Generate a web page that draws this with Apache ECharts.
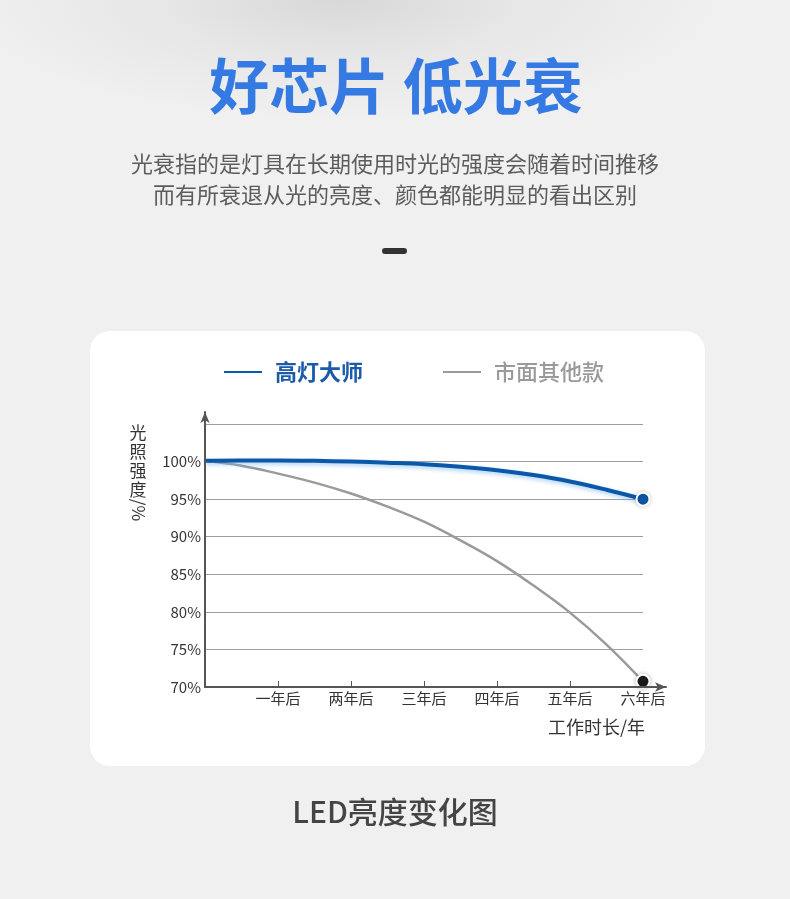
<!DOCTYPE html>
<html>
<head>
<meta charset="utf-8">
<script src="https://cdn.jsdelivr.net/npm/echarts@6/dist/echarts.min.js"></script>
<style>
  html, body { margin: 0; padding: 0; }
  body {
    width: 790px; height: 899px; overflow: hidden;
    background: radial-gradient(ellipse 380px 120px at 340px 0px, #d8d8d8 0%, #e6e6e6 45%, #f0f0f0 100%), #f0f0f0;
  }
  #chart { width: 790px; height: 899px; }
</style>
</head>
<body>
<div id="chart"></div>
<script>
// ---- data (every half year) ----
const years = [0, 0.5, 1, 1.5, 2, 2.5, 3, 3.5, 4, 4.5, 5, 5.5, 6];
const xLabels = ['一年后', '两年后', '三年后', '四年后', '五年后', '六年后'];
const gaodengValues = [100.1, 100.15, 100.15, 100.1, 100.0, 99.85, 99.65, 99.3, 98.85, 98.2, 97.35, 96.25, 95.0];
const otherValues = [100.1, 99.45, 98.4, 97.2, 95.75, 94.0, 92.0, 89.5, 86.75, 83.5, 79.9, 75.65, 70.75];
const seriesNames = ['高灯大师', '市面其他款'];
const yMin = 70, yMax = 105, yStep = 5;

const FONT = '"Noto Sans CJK SC", "Noto Sans", sans-serif';

const chart = echarts.init(document.getElementById('chart'), null, { renderer: 'canvas' });

function pairs(vals) {
  return years.map((y, i) => [y, vals[i]]);
}
function endSymbol(value, params) {
  return params.dataIndex === years.length - 1 ? 'circle' : 'none';
}

const option = {
  backgroundColor: 'transparent',
  textStyle: { fontFamily: FONT },
  graphic: [
    { type: 'rect', z: -10, shape: { x: 90, y: 331, width: 615, height: 435, r: 20 }, style: { fill: '#ffffff' } },
    { type: 'text', x: 396, y: 86,
      style: { text: '好芯片 低光衰', font: 'bold 60px ' + FONT, fill: '#3579e3', align: 'center', verticalAlign: 'middle' } },
    { type: 'text', x: 395, y: 148,
      style: { text: '光衰指的是灯具在长期使用时光的强度会随着时间推移\n而有所衰退从光的亮度、颜色都能明显的看出区别',
        font: '22px ' + FONT, fill: '#5c5c5c', lineHeight: 31, align: 'center', verticalAlign: 'top' } },
    { type: 'rect', shape: { x: 382, y: 248, width: 25, height: 6, r: 3 }, style: { fill: '#333333' } },
    { type: 'text', x: 395, y: 812,
      style: { text: 'LED亮度变化图', font: '500 30px ' + FONT, fill: '#444444', align: 'center', verticalAlign: 'middle' } },
    { type: 'text', x: 138, y: 423,
      style: { text: '光\n照\n强\n度', font: '17px ' + FONT, fill: '#333333', lineHeight: 19, align: 'center', verticalAlign: 'top' } },
    { type: 'text', x: 138, y: 510, rotation: -Math.PI / 2,
      style: { text: '/%', font: '17px ' + FONT, fill: '#333333', align: 'center', verticalAlign: 'middle' } },
    { type: 'text', x: 645, y: 727,
      style: { text: '工作时长/年', font: '18px ' + FONT, fill: '#333333', align: 'right', verticalAlign: 'middle' } }
  ],
  legend: {
    left: 222, top: 361, padding: 0,
    itemWidth: 40, itemHeight: 4, itemGap: 78,
    icon: 'roundRect',
    selectedMode: false,
    textStyle: { fontSize: 22, fontFamily: FONT, padding: [0, 0, 0, 7] },
    data: [
      { name: seriesNames[0], itemStyle: { color: '#0b57a8' }, textStyle: { color: '#1b5ba8', fontWeight: 'bold' } },
      { name: seriesNames[1], itemStyle: { color: '#9a9a9a' }, textStyle: { color: '#9a9a9a', fontWeight: 500 } }
    ]
  },
  grid: [
    { left: 205, top: 412, width: 461, height: 275, containLabel: false },
    { left: 205, top: 424, width: 438, height: 263, containLabel: false }
  ],
  xAxis: [
    { gridIndex: 0, type: 'value', min: 0, max: 1, z: 5,
      axisLine: { show: true, symbol: ['none', 'arrow'], symbolSize: [7, 11], lineStyle: { color: '#555555', width: 2 } },
      axisTick: { show: false }, axisLabel: { show: false }, splitLine: { show: false } },
    { gridIndex: 1, type: 'value', min: 0, max: 6, interval: 1,
      axisLine: { show: false },
      axisTick: { show: true, inside: true, length: 6, lineStyle: { color: '#555555', width: 1 } },
      axisLabel: { color: '#333333', fontSize: 15, margin: 4, fontFamily: FONT,
        formatter: v => (v >= 1 && v <= 6) ? xLabels[v - 1] : '' },
      splitLine: { show: false } }
  ],
  yAxis: [
    { gridIndex: 0, type: 'value', min: 0, max: 1, z: 5,
      axisLine: { show: true, symbol: ['none', 'arrow'], symbolSize: [7, 11], lineStyle: { color: '#555555', width: 2 } },
      axisTick: { show: false }, axisLabel: { show: false }, splitLine: { show: false } },
    { gridIndex: 1, type: 'value', min: yMin, max: yMax, interval: yStep,
      axisLine: { show: false }, axisTick: { show: false },
      axisLabel: { color: '#333333', fontSize: 15, margin: 4, fontFamily: FONT,
        formatter: v => v === yMax ? '' : v + '%' },
      splitLine: { show: true, lineStyle: { color: '#9e9e9e', width: 1 } } }
  ],
  series: [
    {
      name: seriesNames[1], type: 'line', xAxisIndex: 1, yAxisIndex: 1,
      data: pairs(otherValues), smooth: 0.4, z: 3,
      symbol: endSymbol, symbolSize: 13, showAllSymbol: true,
      color: '#9a9a9a',
      lineStyle: { color: '#9a9a9a', width: 2.5 },
      itemStyle: { color: '#1a1a1a', borderColor: '#ffffff', borderWidth: 2, shadowColor: 'rgba(0,0,0,0.25)', shadowBlur: 4 }
    },
    {
      name: seriesNames[0], type: 'line', xAxisIndex: 1, yAxisIndex: 1,
      data: pairs(gaodengValues), smooth: 0.4, z: 4,
      symbol: endSymbol, symbolSize: 13, showAllSymbol: true,
      color: '#0b57a8',
      lineStyle: { color: '#0b57a8', width: 4, shadowColor: 'rgba(110,175,240,0.6)', shadowBlur: 4, shadowOffsetY: 2 },
      itemStyle: { color: '#0b57a8', borderColor: '#ffffff', borderWidth: 2, shadowColor: 'rgba(0,0,0,0.2)', shadowBlur: 4 }
    }
  ],
  animation: false
};
chart.setOption(option);
</script>
</body>
</html>
